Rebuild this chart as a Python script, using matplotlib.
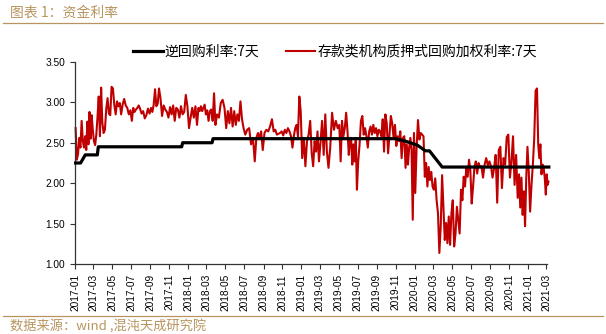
import pandas as pd
import matplotlib
matplotlib.use('Agg')
import matplotlib.pyplot as plt
import matplotlib.dates as mdates

# 逆回购利率:7天 (points where the series changes)
repo_dates = ['2017-01-03', '2017-01-19', '2017-02-03', '2017-03-14', '2017-03-17',
              '2017-12-11', '2017-12-14', '2018-03-19', '2018-03-22',
              '2019-11-01', '2019-12-02', '2020-01-10', '2020-02-05', '2020-02-18',
              '2020-03-30', '2021-03-09']
repo_rate = [2.25, 2.25, 2.35, 2.35, 2.45, 2.45, 2.50, 2.50, 2.55,
             2.55, 2.52, 2.47, 2.40, 2.40, 2.20, 2.20]

# 存款类机构质押式回购加权利率:7天, observations grouped by month from 2017-01
dr007_first_month = '2017-01'
dr007_last_day = '2021-03-09'
dr007 = [
    [2.68, 2.29, 2.36, 2.56, 2.44, 2.77, 2.52, 2.44],
    [2.58, 2.41, 2.76, 2.48, 2.88, 2.55, 2.84, 2.66],
    [2.52, 2.47, 2.60, 2.82, 3.07, 2.58, 3.18, 2.75],
    [2.62, 2.66, 2.92, 3.05, 2.86, 2.84, 3.19],
    [3.17, 2.97, 2.85, 3.01, 2.95, 2.99, 2.85],
    [2.97, 3.04, 2.96, 2.93, 2.85, 2.90],
    [2.77, 2.93, 2.88, 2.91, 2.93, 2.96, 2.92],
    [2.86, 2.89, 2.80, 2.84, 2.92, 2.86],
    [2.93, 2.88, 2.97, 3.16, 2.95, 2.98, 3.17],
    [3.05, 2.83, 2.96, 2.91, 2.88, 2.81],
    [2.94, 2.85, 2.96, 2.77, 2.93, 2.91],
    [2.81, 2.95, 2.85, 2.88, 3.09, 2.95],
    [2.68, 2.81, 2.93, 2.81, 2.95, 2.72],
    [2.93, 2.89, 2.95, 2.89, 2.93, 2.97, 2.85],
    [2.90, 2.77, 2.89, 2.91, 2.77, 3.11, 2.72],
    [2.85, 2.81, 2.99, 3.03, 2.93],
    [2.68, 2.89, 2.74, 2.93, 2.70, 2.89],
    [2.72, 2.85, 2.77, 3.01, 2.79, 2.68],
    [2.60, 2.66, 2.68, 2.48, 2.56],
    [2.27, 2.56, 2.62, 2.56, 2.64, 2.41],
    [2.62, 2.66, 2.64, 2.70, 2.79],
    [2.64, 2.66, 2.60, 2.61, 2.62, 2.64],
    [2.59, 2.66, 2.62, 2.68, 2.64, 2.58],
    [2.44, 2.58, 2.68, 2.72, 2.58, 3.07, 2.89],
    [2.31, 2.56, 2.21, 2.52, 2.60, 2.77],
    [2.37, 2.21, 2.52, 2.39, 2.64, 2.27],
    [2.50, 2.77, 2.35, 2.85, 2.39, 2.19],
    [2.44, 2.87, 2.66, 2.77, 2.68],
    [2.72, 2.27, 2.77, 2.58, 2.68, 2.87, 2.64],
    [2.35, 2.52, 2.56, 2.23, 2.48, 2.27, 2.56, 1.92],
    [2.27, 2.48, 2.77, 2.83, 2.60, 2.68, 2.58],
    [2.44, 2.64, 2.70, 2.60, 2.72, 2.62, 2.68],
    [2.58, 2.66, 2.64, 2.58, 2.79, 2.39, 2.85],
    [2.74, 2.37, 2.60, 2.83, 2.74, 2.56, 2.72],
    [2.46, 2.58, 2.52, 2.64, 2.31, 2.56, 2.58],
    [2.19, 2.48, 2.23, 2.44, 2.56, 2.41, 1.55, 2.62],
    [1.88, 2.45, 2.78, 2.54, 2.62, 2.60, 2.58],
    [2.08, 2.25, 1.96, 2.20, 2.04, 2.14, 1.96],
    [1.92, 2.06, 1.79, 1.63, 1.14, 1.47, 2.10],
    [1.71, 1.30, 1.51, 1.26, 1.59, 1.24, 1.63],
    [1.79, 1.22, 1.38, 1.71, 1.55, 1.38, 1.92],
    [1.79, 2.08, 1.96, 2.20, 2.08, 2.29, 2.16],
    [1.75, 1.96, 2.20, 2.27, 2.12, 2.25, 2.20],
    [2.21, 2.07, 2.23, 2.31, 2.22, 2.27],
    [2.21, 2.07, 2.19, 2.35, 1.76, 2.41],
    [2.45, 1.94, 2.31, 2.23, 2.57, 2.60],
    [2.07, 2.27, 2.58, 1.98, 2.35, 1.82],
    [2.11, 1.70, 2.07, 1.61, 1.90, 1.47, 2.07, 2.45],
    [2.15, 1.65, 1.98, 2.23, 2.56, 3.14, 3.17],
    [2.48, 2.31, 2.48, 2.11, 2.23, 2.19, 2.07, 1.86],
    [2.11, 1.98, 2.02],
]

yticks = [1.00, 1.50, 2.00, 2.50, 3.00, 3.50]
title = '图表 1：资金利率'
source = '数据来源：wind ,混沌天成研究院'
gold = '#B8955F'
cjk = ['Noto Sans CJK SC', 'DejaVu Sans']

# spread each month's observations across that month
last_day = pd.Timestamp(dr007_last_day)
months = pd.period_range(dr007_first_month, periods=len(dr007), freq='M')
red_x, red_y = [], []
for per, vals in zip(months, dr007):
    start = per.start_time
    stop = min(per.end_time.normalize() + pd.Timedelta(days=1), last_day)
    span = stop - start
    for i, v in enumerate(vals):
        red_x.append(start + span * (i + 0.5) / len(vals))
        red_y.append(v)

fig = plt.figure(figsize=(6.06, 3.34), dpi=100)
ax = fig.add_axes([0.1238, 0.2087, 0.7788, 0.6066])

ax.plot(red_x, red_y, color='#C00000', lw=1.5, zorder=2, clip_on=False,
        label='存款类机构质押式回购加权利率:7天')
ax.plot(pd.to_datetime(repo_dates), repo_rate, color='black', lw=2.3, zorder=3,
        clip_on=False, label='逆回购利率:7天')

ax.set_xlim(pd.Timestamp('2017-01-01'), pd.Timestamp('2021-03-03'))
ax.set_ylim(1.0, 3.5)
ax.set_yticks(yticks)
ax.set_yticklabels([f'{t:.2f}' for t in yticks])
ax.xaxis.set_major_locator(mdates.MonthLocator(bymonth=[1, 3, 5, 7, 9, 11]))
ax.xaxis.set_major_formatter(mdates.DateFormatter('%Y-%m'))
plt.setp(ax.get_xticklabels(), rotation=90)

for s in ['top', 'right']:
    ax.spines[s].set_visible(False)
for s in ['left', 'bottom']:
    ax.spines[s].set_color('#333333')
    ax.spines[s].set_linewidth(0.9)
ax.tick_params(axis='both', direction='out', length=3.5, width=0.8,
               colors='#333333', labelsize=7.3, labelcolor='black')
for lab in ax.get_xticklabels() + ax.get_yticklabels():
    lab.set_family('Liberation Sans')

handles, labels = ax.get_legend_handles_labels()
fig.legend(handles[::-1], labels[::-1], loc='center', bbox_to_anchor=(0.553, 0.845),
           ncol=2, frameon=False, handlelength=2.1, handletextpad=0.15,
           columnspacing=1.9, prop={'family': cjk, 'size': 10})

# header and footer
fig.text(0.017, 0.962, title, family=cjk, size=10, color=gold, va='center')
fig.add_artist(plt.Line2D([0.005, 0.995], [0.931, 0.931], color=gold, lw=0.9))
fig.add_artist(plt.Line2D([0.005, 0.995], [0.055, 0.055], color=gold, lw=0.9))
fig.text(0.017, 0.022, source, family=cjk, size=9.5, color=gold, va='center')

fig.savefig('out.png', dpi=100)
